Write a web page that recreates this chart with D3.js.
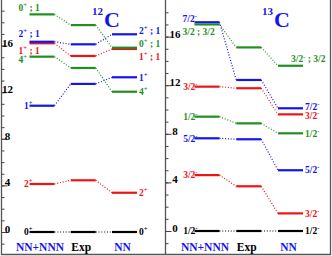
<!DOCTYPE html>
<html>
<head>
<meta charset="utf-8">
<script src="https://cdn.jsdelivr.net/npm/d3@7"></script>
<style>
  body { margin: 0; background: #fff; }
  svg { display: block; }
</style>
</head>
<body>
<div id="chart"></div>
<script>
const columns = ['NN+NNN', 'Exp', 'NN'];

// 12C levels (MeV), same order in every list
const c12LeftLabels = ['0+', '2+', '1+', '4+', '1+ ; 1', '2+ ; 1', '0+ ; 1'];
const c12RightLabels = ['0+', '2+', '1+', '4+', '1+ ; 1', '2+ ; 1', '0+ ; 1'];
const c12NNNNN = [0, 4.12, 10.84, 15.05, 16.2, 16.33, 18.68];
const c12Exp = [0, 4.44, 12.71, 14.08, 15.11, 16.11, 17.76];
const c12NN = [0, 3.37, 13.28, 12.04, 15.71, 16.97, 15.82];

// 13C levels (MeV)
const c13LeftLabels = ['1/2-', '3/2-', '5/2-', '1/2-', '3/2-', '7/2-', '3/2 ; 3/2'];
const c13RightLabels = ['1/2-', '3/2-', '5/2-', '1/2-', '3/2-', '7/2-', '3/2- ; 3/2'];
const c13NNNNN = [0, 4.6, 7.63, 9.41, 11.88, 17.18, 17.0];
const c13Exp = [0, 3.68, 7.55, 8.86, 11.75, 12.43, 15.11];
const c13NN = [0, 1.45, 5.0, 8.04, 9.6, 10.1, 13.6];

const majorTicks = [0, 4, 8, 12, 16];
const minorTicks = d3.range(-2, 21);

const W = 332, H = 256;
const serif = '"Liberation Serif", "DejaVu Serif", serif';
const BLUE = '#1414f0', RED = '#ee1414', GREEN = '#1f8f1f', BLACK = '#000';

const levelColor = d3.scaleOrdinal().domain(d3.range(7))
  .range([BLACK, RED, BLUE, GREEN, RED, BLUE, GREEN]);
const columnColor = d3.scaleOrdinal().domain(columns).range([BLUE, BLACK, BLUE]);

const svg = d3.select('#chart').append('svg')
  .attr('width', W).attr('height', H);

// spread label centres so they don't overlap
function spread(vals, gap) {
  const order = d3.range(vals.length).sort((a, b) => vals[a] - vals[b]);
  const pos = vals.slice();
  for (let k = 0; k < 300; k++) {
    let moved = false;
    for (let j = 1; j < order.length; j++) {
      const a = order[j - 1], b = order[j];
      const d = pos[b] - pos[a];
      if (d < gap - 0.01) {
        const s = (gap - d) / 2;
        pos[a] -= s; pos[b] += s; moved = true;
      }
    }
    if (!moved) break;
  }
  return pos;
}

function spinText(sel, label, size) {
  const m = label.match(/^(\d+(?:\/\d+)?)([+-]?)(.*)$/);
  sel.append('tspan').text(m[1]);
  if (m[2]) {
    sel.append('tspan').attr('font-size', size * 0.7).attr('dy', -size * 0.42).text(m[2]);
    sel.append('tspan').attr('dy', size * 0.42).text(m[3]);
  } else {
    sel.append('tspan').text(m[3]);
  }
}

function panel(opt) {
  const g = svg.append('g');
  const y = d3.scaleLinear().domain([0, 16]).range(opt.yRange);
  const x = d3.scalePoint().domain(columns).range(opt.xRange);
  const hw = 12.5;
  const series = [opt.nnn, opt.exp, opt.nn];

  // axis ticks
  const minor = g.append('g')
    .attr('transform', `translate(${opt.left},0)`)
    .attr('color', '#444')
    .call(d3.axisRight(y).tickValues(minorTicks.filter(v => y(v) > 2 && y(v) < H - 3))
      .tickSize(3).tickFormat(''));
  minor.select('.domain').remove();
  const major = g.append('g')
    .attr('transform', `translate(${opt.left},0)`)
    .attr('color', '#444')
    .call(d3.axisRight(y).tickValues(majorTicks).tickSize(6).tickFormat(d3.format('d')));
  major.select('.domain').remove();
  major.selectAll('text')
    .attr('x', opt.tickLabelX - opt.left)
    .attr('dy', '0.05em')
    .attr('text-anchor', 'middle')
    .attr('fill', '#000')
    .attr('font-family', serif)
    .attr('font-weight', 'bold')
    .attr('font-size', 11);

  // dotted connectors
  for (let c = 0; c < 2; c++) {
    g.append('g').selectAll('line')
      .data(d3.range(7))
      .join('line')
      .attr('x1', x(columns[c]) + hw)
      .attr('x2', x(columns[c + 1]) - hw)
      .attr('y1', i => y(series[c][i]))
      .attr('y2', i => y(series[c + 1][i]))
      .attr('stroke', i => levelColor(i))
      .attr('stroke-width', 1.2)
      .attr('stroke-dasharray', '1,1.8');
  }

  // level bars
  columns.forEach((col, c) => {
    g.append('g').selectAll('line')
      .data(d3.range(7))
      .join('line')
      .attr('x1', x(col) - hw)
      .attr('x2', x(col) + hw)
      .attr('y1', i => y(series[c][i]))
      .attr('y2', i => y(series[c][i]))
      .attr('stroke', i => levelColor(i))
      .attr('stroke-width', 2.2);
  });

  // spin labels
  const fs = opt.fontSize;
  [[0, opt.leftLabels], [2, opt.rightLabels]].forEach(([c, labels]) => {
    const ys = series[c].map(v => y(v));
    const texts = labels.map((lab, i) => {
      const t = g.append('text')
        .attr('font-family', serif)
        .attr('font-weight', 'bold')
        .attr('font-size', fs)
        .attr('fill', levelColor(i));
      spinText(t, lab, fs);
      return t;
    });
    const clamped = [];
    const xs = texts.map((t, i) => {
      const w = t.node().getComputedTextLength();
      let x0;
      if (c === 0) {
        x0 = x(columns[0]) - hw + 3 - w;
        clamped[i] = x0 < opt.left + 17;
        if (clamped[i]) x0 = opt.left + 17;
      } else {
        x0 = x(columns[2]) + hw + 2;
        clamped[i] = x0 + w > opt.right - 5;
        if (clamped[i]) x0 = opt.right - 5 - w;
      }
      return x0;
    });
    const pos = spread(ys, opt.gap);
    pos.forEach((p, i) => {
      if (clamped[i]) {
        const d = p - ys[i];
        if (Math.abs(d) < 7) pos[i] = ys[i] + (d > 0.5 ? 7 : -6.5);
      }
    });
    // left-hand labels pushed out of place line up on their left edge
    if (c === 0) {
      const moved = d3.range(7).filter(i => Math.abs(pos[i] - ys[i]) > 1);
      const x0 = d3.min(moved, i => xs[i]);
      moved.forEach(i => { xs[i] = x0; });
    }
    texts.forEach((t, i) => t.attr('x', xs[i]).attr('y', pos[i] + fs * 0.34));
  });

  // column names
  g.append('g').selectAll('text')
    .data(columns)
    .join('text')
    .attr('x', d => x(d) - 2)
    .attr('y', 251)
    .attr('text-anchor', 'middle')
    .attr('font-family', serif)
    .attr('font-weight', 'bold')
    .attr('font-size', 11.5)
    .attr('fill', d => columnColor(d))
    .text(d => d);

  // nucleus title
  const title = g.append('text')
    .attr('x', opt.titleX).attr('y', 27)
    .attr('font-family', serif)
    .attr('font-weight', 'bold')
    .attr('fill', BLUE);
  title.append('tspan').attr('font-size', 11).attr('dy', -12).text(opt.mass);
  title.append('tspan').attr('font-size', 22).attr('dy', 12).attr('dx', 1).text('C');
}

// frame
const frame = svg.append('g').attr('stroke', '#555').attr('stroke-width', 1.3);
[1.5, 165.5, 330.5].forEach(xv => frame.append('line')
  .attr('x1', xv).attr('x2', xv).attr('y1', 0).attr('y2', 255));
frame.append('line').attr('x1', 1).attr('x2', 331).attr('y1', 254.5).attr('y2', 254.5);

panel({
  left: 1.5, right: 165.5, xRange: [42, 124.5], yRange: [232, 45.6],
  tickLabelX: 7.5, fontSize: 9.5, gap: 13, mass: '12', titleX: 92,
  nnn: c12NNNNN, exp: c12Exp, nn: c12NN,
  leftLabels: c12LeftLabels, rightLabels: c12RightLabels
});
panel({
  left: 165.5, right: 330.5, xRange: [207, 290.5], yRange: [231, 36.6],
  tickLabelX: 175, fontSize: 9.5, gap: 9, mass: '13', titleX: 262,
  nnn: c13NNNNN, exp: c13Exp, nn: c13NN,
  leftLabels: c13LeftLabels, rightLabels: c13RightLabels
});
</script>
</body>
</html>
